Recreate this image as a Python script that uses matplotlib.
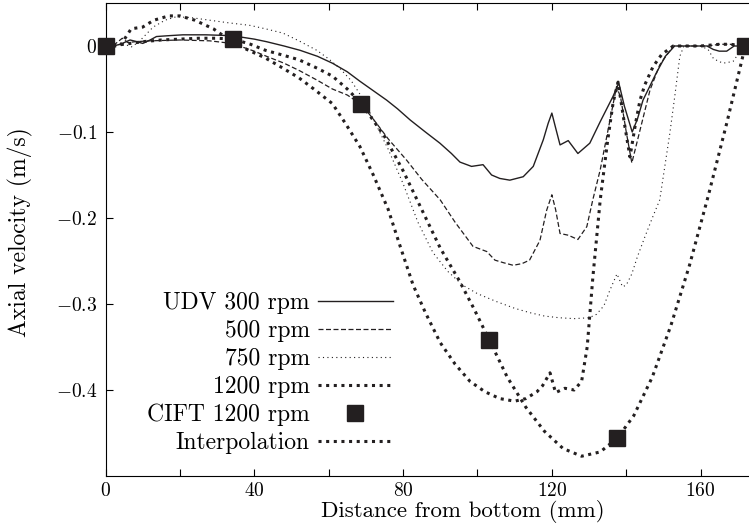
import matplotlib
matplotlib.use("Agg")
from matplotlib import pyplot as plt

plt.rcParams['font.family'] = 'cmr10'
plt.rcParams['mathtext.fontset'] = 'cm'
plt.rcParams['axes.unicode_minus'] = False

ink = '#231f20'

# distance from bottom (mm) / axial velocity (m/s)
x300 = [0, 2, 4, 6.6, 8.5, 10, 12, 13.7, 17, 20.8, 27, 34, 40, 43.3, 48, 52.3, 57, 61, 65, 68.4,
        72, 75.6, 78.5, 81.9, 86, 89.9, 93, 95.3, 98.4, 101.5, 103.8, 106, 108.7, 112.3, 115, 117.7,
        119, 120, 121, 122.2, 124.4, 127, 130.2, 133, 136.4, 138, 139.5, 141.6, 143, 144.5, 148,
        150.5, 153, 158, 161.7, 163.4, 165, 167, 169, 172]
v300 = [0, 0.0, 0.002, 0.007, 0.005, 0.003, 0.007, 0.011, 0.012, 0.013, 0.013, 0.012, 0.008, 0.005,
        0.0, -0.005, -0.012, -0.02, -0.03, -0.041, -0.052, -0.063, -0.073, -0.086, -0.1, -0.113,
        -0.125, -0.135, -0.140, -0.138, -0.150, -0.154, -0.156, -0.152, -0.140, -0.109, -0.09,
        -0.078, -0.095, -0.115, -0.110, -0.125, -0.113, -0.088, -0.059, -0.043, -0.07, -0.1, -0.085,
        -0.063, -0.032, -0.012, 0.0, 0.0, 0.0, -0.004, -0.006, -0.006, 0.0, 0.0]

x500 = [0, 2.5, 4.5, 6, 8, 12, 20, 28, 34, 40, 43.3, 48, 52.3, 57, 61, 65, 68.8, 72, 76, 81, 85,
        90, 94, 98.8, 102.5, 104.7, 107, 109.6, 112, 114, 116.8, 118.6, 120, 121, 122.2, 124.4,
        127, 129.4, 131, 133, 135, 137.4, 138.5, 140, 141.5, 143, 146.4, 149, 152.6, 158, 162,
        165, 168, 170, 172]
v500 = [0, 0.002, 0.009, 0.004, 0.005, 0.006, 0.007, 0.006, 0.003, -0.006, -0.012, -0.02, -0.029,
        -0.04, -0.05, -0.057, -0.068, -0.085, -0.108, -0.133, -0.155, -0.179, -0.205, -0.233,
        -0.239, -0.249, -0.252, -0.255, -0.253, -0.249, -0.226, -0.191, -0.173, -0.19, -0.218,
        -0.22, -0.225, -0.21, -0.179, -0.144, -0.1, -0.047, -0.06, -0.1, -0.136, -0.11, -0.051,
        -0.022, 0.0, 0.0, 0.0, 0.002, 0.002, 0.0, 0.0]

x750 = [0, 2.5, 4.5, 7, 9, 12.8, 16, 19, 23, 28, 33, 38.8, 43, 47.7, 52, 56.8, 60, 63, 66, 69,
        72, 76, 80, 84, 88, 92, 96, 100, 105, 110, 114, 118, 122, 126, 130, 132, 134, 135.5,
        137.5, 139, 140, 141.5, 143, 145, 147, 149, 151.7, 153, 154.4, 155.5, 160, 162, 163.5,
        166, 168.7, 170, 172]
v750 = [0, 0.0, 0.003, -0.001, 0.005, 0.022, 0.03, 0.034, 0.033, 0.030, 0.027, 0.024, 0.02, 0.015,
        0.006, -0.005, -0.015, -0.026, -0.04, -0.06, -0.085, -0.12, -0.16, -0.205, -0.24, -0.262,
        -0.278, -0.288, -0.297, -0.305, -0.31, -0.314, -0.316, -0.317, -0.316, -0.312, -0.302,
        -0.285, -0.265, -0.28, -0.278, -0.265, -0.245, -0.222, -0.2, -0.179, -0.102, -0.06,
        -0.012, 0.0, 0.0, -0.004, -0.015, -0.02, -0.018, -0.01, 0.0]

x1200 = [0, 3.9, 6.9, 10, 13, 17, 20, 24, 29, 34, 38, 43, 47, 52, 56, 61, 64.5, 68.4, 72, 76, 79,
         82.7, 86, 90, 94, 98, 102, 106, 110, 113, 116, 117.5, 119.5, 121, 123.5, 126, 128, 129.5,
         131, 133, 135, 136.5, 137.8, 139.5, 141, 142.5, 143.7, 145, 147.2, 149.5, 152.6, 160,
         165, 168, 172]
v1200 = [0, 0.0, 0.02, 0.022, 0.03, 0.035, 0.035, 0.03, 0.02, 0.005, -0.004, -0.014, -0.024,
         -0.037, -0.05, -0.067, -0.09, -0.117, -0.15, -0.19, -0.23, -0.278, -0.31, -0.345, -0.37,
         -0.39, -0.402, -0.41, -0.413, -0.41, -0.402, -0.395, -0.38, -0.403, -0.398, -0.4, -0.39,
         -0.35, -0.27, -0.179, -0.11, -0.065, -0.042, -0.09, -0.129, -0.09, -0.063, -0.045,
         -0.024, -0.01, 0.0, 0.0, 0.002, 0.002, 0.0]

x_cift = [0, 34.4, 68.8, 103.2, 137.6, 172]
v_cift = [0, 0.008, -0.067, -0.342, -0.456, 0]

x_interp = [0, 5, 10, 15, 20, 25, 30, 34.4, 39, 43, 48, 52, 57, 61, 65, 68.8, 75, 80, 85, 90, 95,
            99, 103.2, 108, 113, 118, 123, 128, 133, 137.6, 142, 147, 152, 157, 162, 167, 172]
v_interp = [0, 0.002, 0.005, 0.007, 0.008, 0.009, 0.009, 0.008, 0.002, -0.005, -0.011, -0.016,
            -0.026, -0.035, -0.05, -0.067, -0.105, -0.145, -0.19, -0.235, -0.272, -0.305, -0.342,
            -0.385, -0.42, -0.448, -0.468, -0.477, -0.472, -0.456, -0.43, -0.385, -0.325, -0.255,
            -0.175, -0.09, 0.0]

labels = ['UDV 300 rpm', '500 rpm', '750 rpm', '1200 rpm', 'CIFT 1200 rpm', 'Interpolation']

fig = plt.figure(figsize=(7.49, 5.26), dpi=100)
ax = fig.add_axes([105.5 / 749, 50 / 526, 643.5 / 749, 473 / 526])

ax.plot(x300, v300, color=ink, lw=1.0, label=labels[0])
ax.plot(x500, v500, color=ink, lw=0.9, ls=(0, (4, 2)), label=labels[1])
ax.plot(x750, v750, color=ink, lw=0.8, ls=(0, (1, 3)), label=labels[2])
ax.plot(x1200, v1200, color=ink, lw=2.2, ls=(0, (1, 1.5)), label=labels[3])
ax.plot(x_cift, v_cift, ls='none', marker='s', ms=11, color=ink, clip_on=False, zorder=5,
        label=labels[4])
ax.plot(x_interp, v_interp, color=ink, lw=2.2, ls=(0, (1, 1.5)), label=labels[5])

ax.set_xlim(0, 173)
ax.set_ylim(-0.5, 0.05)

ax.set_xticks(range(0, 161, 20))
ax.set_xticklabels(['$%d$' % t if t % 40 == 0 else '' for t in range(0, 161, 20)])
ax.set_yticks([0, -0.1, -0.2, -0.3, -0.4])
ax.set_yticklabels(['$0$', '$-0.1$', '$-0.2$', '$-0.3$', '$-0.4$'])
ax.tick_params(direction='in', length=5, width=0.8, top=True, labelsize=14)
ax.tick_params(axis='x', pad=4)
ax.tick_params(axis='y', pad=6)
ax.spines['right'].set_visible(False)
for s in ['left', 'top', 'bottom']:
    ax.spines[s].set_linewidth(0.8)

ax.set_xlabel('Distance from bottom (mm)', fontsize=16.5)
ax.set_ylabel('Axial velocity (m/s)', fontsize=17)
ax.xaxis.set_label_coords(0.556, -0.051)
ax.yaxis.set_label_coords(-0.113, 0.516)

ax.legend(loc='center right', bbox_to_anchor=(393 / 749, (526 - 373) / 526),
          bbox_transform=fig.transFigure, frameon=False, markerfirst=False, fontsize=17,
          handlelength=3.18, handletextpad=0.34, labelspacing=0.25, borderpad=0,
          borderaxespad=0)

fig.savefig('out.png', dpi=100)
